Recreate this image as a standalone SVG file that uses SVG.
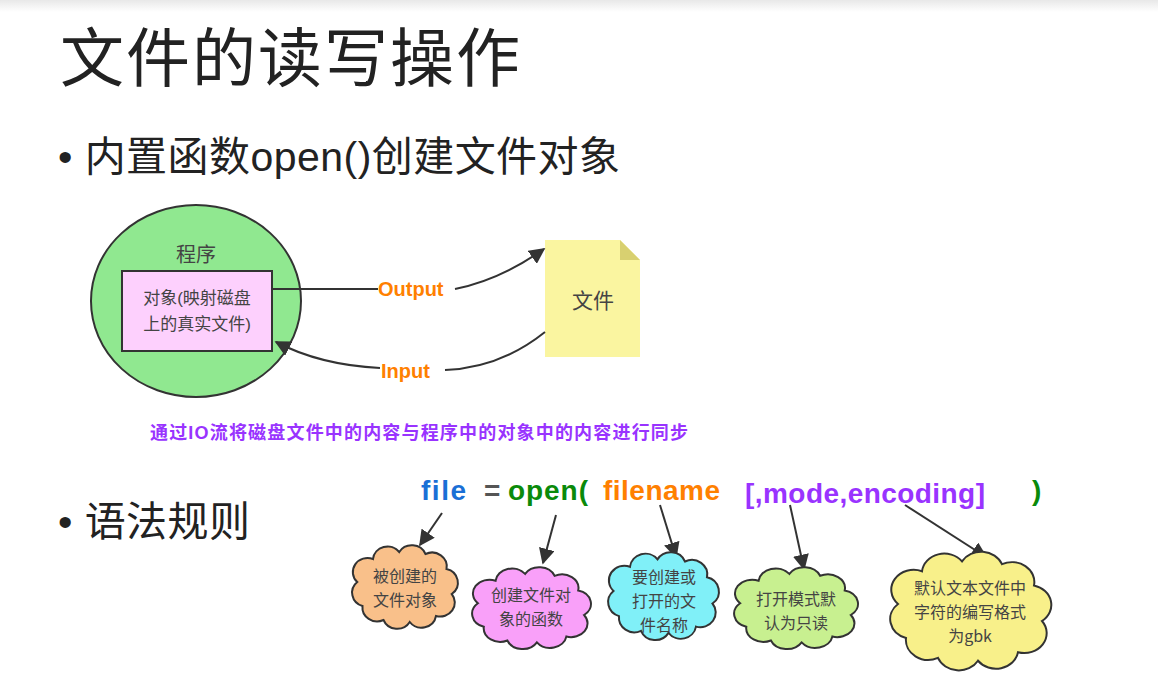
<svg xmlns="http://www.w3.org/2000/svg" width="1158" height="690" viewBox="0 0 1158 690">
<style>
.t{font-family:"Liberation Sans","Noto Sans CJK SC",sans-serif}
.cl{stroke:#333;stroke-width:2}
.ar{fill:none;stroke:#333;stroke-width:2;marker-end:url(#ah)}
.ct{font-family:"Noto Sans CJK SC",sans-serif;font-size:16px;fill:#444;text-anchor:middle}
.cd{font-family:"Liberation Sans","Noto Sans CJK SC",sans-serif;font-size:28px;font-weight:bold}
</style>
<defs>
<marker id="ah" viewBox="0 0 10 10" refX="9" refY="5" markerWidth="8" markerHeight="8" orient="auto"><path d="M0,0 L10,5 L0,10 z" fill="#333"/></marker>
<path id="cloud" vector-effect="non-scaling-stroke" d="M20,15 A14,14 0 0 1 45,8 A14,14 0 0 1 70,10 A14,14 0 0 1 90,25 A14,14 0 0 1 95,50 A14,14 0 0 1 80,72 A14,14 0 0 1 55,78 A14,14 0 0 1 30,76 A14,14 0 0 1 10,62 A14,14 0 0 1 5,38 A14,14 0 0 1 20,15 Z"/>
<linearGradient id="bar" x1="0" y1="0" x2="0" y2="1"><stop offset="0" stop-color="#e8e8e8"/><stop offset="1" stop-color="#fff"/></linearGradient>
</defs>
<rect width="1158" height="690" fill="#fff"/>
<rect width="1158" height="12" fill="url(#bar)"/>
<text class="t" x="60" y="81" font-size="64" fill="#222" textLength="460">文件的读写操作</text>
<text class="t" x="58" y="171" font-size="41" fill="#222" textLength="562">• 内置函数open()创建文件对象</text>
<text class="t" x="58" y="536" font-size="41" fill="#222" textLength="192">• 语法规则</text>
<g id="program">
<ellipse cx="196" cy="301" rx="105" ry="96" fill="#90e890" stroke="#333" stroke-width="2"/>
<text class="t" x="196" y="262" font-size="20" fill="#444" text-anchor="middle">程序</text>
</g>
<g id="object">
<rect x="122" y="271" width="150" height="80" fill="#fdd0fd" stroke="#333" stroke-width="2"/>
<text class="t" x="197" y="304" font-size="17" fill="#444" text-anchor="middle">对象(映射磁盘</text>
<text class="t" x="197" y="330" font-size="17" fill="#444" text-anchor="middle">上的真实文件)</text>
</g>
<g id="file">
<path d="M545,240 H620 L640,260 V357 H545 Z" fill="#faf5a0"/>
<path d="M620,240 V260 H640 Z" fill="#d8d070"/>
<text class="t" x="593" y="308" font-size="21" fill="#444" text-anchor="middle">文件</text>
</g>
<g id="connectors">
<path d="M272,289 H378" fill="none" stroke="#333" stroke-width="2"/>
<path class="ar" d="M455,289 Q500,280 544,249"/>
<path d="M545,332 Q500,368 445,370" fill="none" stroke="#333" stroke-width="2"/>
<path class="ar" d="M380,368 Q320,365 276,342"/>
<text class="t" x="378" y="296" font-size="20" font-weight="bold" fill="#ff8000">Output</text>
<text class="t" x="381" y="378" font-size="20" font-weight="bold" fill="#ff8000">Input</text>
<path class="ar" d="M442,513 L420,545"/>
<path class="ar" d="M556,515 L543,563"/>
<path class="ar" d="M660,505 L676,557"/>
<path class="ar" d="M790,505 L804,569"/>
<path class="ar" d="M905,505 L986,557"/>
</g>
<text class="t" x="150" y="439" font-size="18" font-weight="bold" fill="#9933ff" textLength="538">通过IO流将磁盘文件中的内容与程序中的对象中的内容进行同步</text>
<g id="code">
<text class="cd" x="421" y="500" fill="#1a6fd6" textLength="45">file</text>
<text class="cd" x="484" y="500" fill="#555">=</text>
<text class="cd" x="508" y="500" fill="#0a8a0a" textLength="80">open(</text>
<text class="cd" x="603" y="500" fill="#ff8000" textLength="117">filename</text>
<text class="cd" x="745" y="503" fill="#9933ff" textLength="240">[,mode,encoding]</text>
<text class="cd" x="1032" y="500" fill="#0a8a0a">)</text>
</g>
<g id="c1"><use href="#cloud" class="cl" fill="#f9c08a" transform="translate(352,544) scale(1.05,1.0)"/>
<text class="ct" x="405" y="582">被创建的</text><text class="ct" x="405" y="606">文件对象</text></g>
<g id="c2"><use href="#cloud" class="cl" fill="#f9a0f9" transform="translate(472,566) scale(1.18,0.98)"/>
<text class="ct" x="531" y="601">创建文件对</text><text class="ct" x="531" y="625">象的函数</text></g>
<g id="c3"><use href="#cloud" class="cl" fill="#80f0f8" transform="translate(608,551) scale(1.1,1.05)"/>
<text class="ct" x="664" y="583">要创建或</text><text class="ct" x="664" y="607">打开的文</text><text class="ct" x="664" y="631">件名称</text></g>
<g id="c4"><use href="#cloud" class="cl" fill="#c8f090" transform="translate(734,566) scale(1.23,0.98)"/>
<text class="ct" x="796" y="605">打开模式默</text><text class="ct" x="796" y="629">认为只读</text></g>
<g id="c5"><use href="#cloud" class="cl" fill="#f8f08a" transform="translate(890,550) scale(1.6,1.42)"/>
<text class="ct" x="970" y="594">默认文本文件中</text><text class="ct" x="970" y="618">字符的编写格式</text><text class="ct" x="970" y="642">为gbk</text></g>
</svg>
